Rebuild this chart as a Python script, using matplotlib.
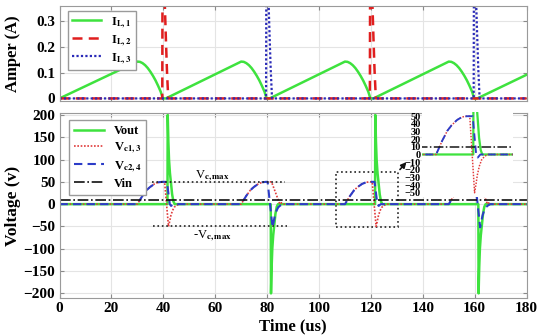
import numpy as np
import matplotlib.pyplot as plt
from matplotlib.patches import Rectangle

plt.rcParams['font.family'] = ['Liberation Serif', 'DejaVu Serif']
plt.rcParams['font.weight'] = 'bold'
plt.rcParams['mathtext.fontset'] = 'stix'

# ---- dados (tempo em us) ----
# corrente IL1: rampas e quedas
il1_ramp_start = [0, 41, 81, 121, 161]
il1_peak_t = [30, 70, 110, 150]
il1_fall_dt = [0, 1, 2, 3, 4, 5, 6, 7, 8, 9, 9.8]
il1_fall_v = [0.143, 0.142, 0.137, 0.129, 0.118, 0.104, 0.088, 0.070, 0.049, 0.026, 0.0]
il1_end_v = 0.092

# pulsos de IL2 e IL3
il2_events = [40, 120]
il3_events = [80, 160]
pulse_dt = [-0.4, -0.3, 0.2, 0.6, 1.0, 1.4, 1.9]
pulse_v = [0, 0.50, 0.55, 0.36, 0.23, 0.11, 0]

# tensoes
events_a = [40, 120]   # Vout positivo
events_b = [80, 160]   # Vout negativo
rise_dt = [-10, -8.1, -6.5, -5.2, -3.5, -1.9, -0.4]
rise_v = [0, 18, 31, 38, 45, 49, 50]
# evento tipo A
a_vc13_dt = [0.5, 2.0, 2.4, 2.9, 3.5, 4.2, 5.0, 6.0]
a_vc13_v = [50, -50, -40, -26, -15, -7, -3, 0]
a_vc24_dt = [1.4, 2.5, 3.0, 3.8]
a_vc24_v = [50, 0, -4, 0]
a_vout_dt = [1.6, 1.7, 1.95, 2.2, 2.55, 3.0, 3.4, 3.9, 4.4]
a_vout_v = [0, 200, 140, 100, 70, 45, 22, 6, 0]
# evento tipo B
b_vc24_dt = [0.2, 2.1, 2.5, 3.0, 3.6, 4.3, 5.1, 6.0]
b_vc24_v = [50, -52, -40, -26, -15, -7, -3, 0]
b_vc13_dt = [1.7, 4.9, 5.5, 6.5]
b_vc13_v = [50, 0, 3, 0]
b_vout_dt = [1.4, 1.5, 1.75, 2.0, 2.35, 2.8, 3.2, 3.7, 4.2]
b_vout_v = [0, -200, -140, -100, -70, -45, -22, -6, 0]

vin = 10
vc_max = 50
t_end = 180


def build(pieces):
    '''junta pedacos (t0, dt, v) numa forma de onda com base em zero'''
    t, v = [0.0], [0.0]
    for t0, dt, val in sorted(pieces, key=lambda p: p[0] + p[1][0]):
        t += [t0 + d for d in dt]
        v += list(val)
    t.append(t_end)
    v.append(0.0)
    return np.array(t), np.array(v)


# IL1
t_il1, v_il1 = [], []
for start, peak in zip(il1_ramp_start, il1_peak_t):
    t_il1 += [start] + [peak + d for d in il1_fall_dt]
    v_il1 += [0] + il1_fall_v
t_il1 += [il1_ramp_start[-1], t_end]
v_il1 += [0, il1_end_v]

t_il2, v_il2 = build([(e, pulse_dt, pulse_v) for e in il2_events])
t_il3, v_il3 = build([(e, pulse_dt, pulse_v) for e in il3_events])

p_vout = [(e, a_vout_dt, a_vout_v) for e in events_a] + [(e, b_vout_dt, b_vout_v) for e in events_b]
p_vc13 = [(e, rise_dt, rise_v) for e in events_a + events_b]
p_vc13 += [(e, a_vc13_dt, a_vc13_v) for e in events_a] + [(e, b_vc13_dt, b_vc13_v) for e in events_b]
p_vc24 = [(e, rise_dt, rise_v) for e in events_a + events_b]
p_vc24 += [(e, a_vc24_dt, a_vc24_v) for e in events_a] + [(e, b_vc24_dt, b_vc24_v) for e in events_b]
t_vout, v_vout = build(p_vout)
t_vc13, v_vc13 = build(p_vc13)
t_vc24, v_vc24 = build(p_vc24)

green = '#3ee23e'
red = '#e01e1e'
blue = '#2a2ab8'

fig = plt.figure(figsize=(5.39, 3.35), dpi=100)
ax1 = fig.add_axes([0.1104, 0.6985, 0.8666, 0.2845])
ax2 = fig.add_axes([0.1104, 0.1096, 0.8666, 0.554])


def style(ax):
    ax.grid(True, color='#e4e4e4', linewidth=0.8)
    ax.set_axisbelow(True)
    ax.tick_params(direction='in', top=True, right=True, length=3, color='#8a8a8a',
                   labelsize=11, pad=3)
    for s in ax.spines.values():
        s.set_color('#9a9a9a')
    ax.set_xlim(0, 180)
    ax.set_xticks(np.arange(0, 181, 20))


# painel de cima
ax1.plot(t_il1, v_il1, color=green, lw=1.8, label=r'I$_{\mathbf{L,1}}$')
ax1.plot(t_il2, v_il2, color=red, lw=1.8, ls=(0, (4, 2.5)), label=r'I$_{\mathbf{L,2}}$')
ax1.plot(t_il3, v_il3, color=blue, lw=1.6, ls=(0, (1, 1)), label=r'I$_{\mathbf{L,3}}$')
style(ax1)
ax1.set_ylim(-0.01, 0.36)
ax1.set_yticks([0, 0.1, 0.2, 0.3])
ax1.set_yticklabels(['0', '0.1', '0.2', '0.3'])
ax1.tick_params(labelbottom=False)
ax1.set_ylabel('Amper (A)', fontsize=12, fontweight='bold')
ax1.yaxis.set_label_coords(-0.083, 0.5)
leg1 = ax1.legend(loc='upper left', bbox_to_anchor=(0.018, 0.944), borderaxespad=0,
                  fancybox=False, fontsize=9, handlelength=2.3, labelspacing=0.25,
                  borderpad=0.35, framealpha=1)
leg1.get_frame().set_edgecolor('#9a9a9a')

# painel de baixo
def draw_v(ax, lw_scale=1.0):
    ax.plot(t_vout, v_vout, color=green, lw=1.8 * lw_scale, label='Vout')
    ax.plot(t_vc13, v_vc13, color='#e03a3a', lw=1.2 * lw_scale, ls=(0, (1, 1)), label=r'V$_{\mathbf{c1,3}}$')
    ax.plot(t_vc24, v_vc24, color='#2c3cc8', lw=1.5 * lw_scale, ls=(0, (4, 2.5)), label=r'V$_{\mathbf{c2,4}}$')
    ax.plot([0, t_end], [vin, vin], color='#111111', lw=1.2 * lw_scale, ls='-.', label='Vin')


draw_v(ax2)
style(ax2)
ax2.set_ylim(-211, 205)
ax2.set_yticks(np.arange(-200, 201, 50))
ax2.set_xlabel('Time (us)', fontsize=12, fontweight='bold', labelpad=2)
ax2.set_ylabel('Voltage (v)', fontsize=12.5, fontweight='bold')
ax2.yaxis.set_label_coords(-0.083, 0.5)
leg2 = ax2.legend(loc='upper left', bbox_to_anchor=(0.02, 0.961), borderaxespad=0,
                  fancybox=False, fontsize=9, handlelength=2.4, labelspacing=0.3,
                  borderpad=0.4, framealpha=1)
leg2.get_frame().set_edgecolor('#9a9a9a')

# linhas de Vc,max
ax2.plot([35.5, 86.9], [vc_max, vc_max], ls=':', color='#222222', lw=1.2)
ax2.plot([36.1, 87.5], [-vc_max, -vc_max], ls=':', color='#222222', lw=1.2)
ax2.text(59, 63, r'V$_{\mathrm{c,max}}$', fontsize=9, fontweight='normal', ha='center', va='center')
ax2.text(59, -70, r'-V$_{\mathrm{c,max}}$', fontsize=9, fontweight='normal', ha='center', va='center')

# retangulo do zoom e seta
ax2.add_patch(Rectangle((106.4, -51), 24.1, 124, fill=False, ls=':', lw=1.2, ec='#222222'))
ax2.annotate('', xy=(134.4, 99), xytext=(130.5, 73),
             arrowprops=dict(arrowstyle='-|>', color='#111111', lw=1.2, mutation_scale=8))

# detalhe (inset)
axin = fig.add_axes([0.7824, 0.412, 0.1694, 0.2537])
axin.set_facecolor('white')
draw_v(axin, 0.9)
axin.set_xlim(105.5, 134)
axin.set_ylim(-55.5, 55.5)
axin.set_xticks([])
axin.set_yticks(np.arange(-50, 51, 10))
axin.tick_params(length=0, labelsize=7.5, pad=0.5)
for s in axin.spines.values():
    s.set_visible(False)

fig.savefig('out.png', dpi=100)
